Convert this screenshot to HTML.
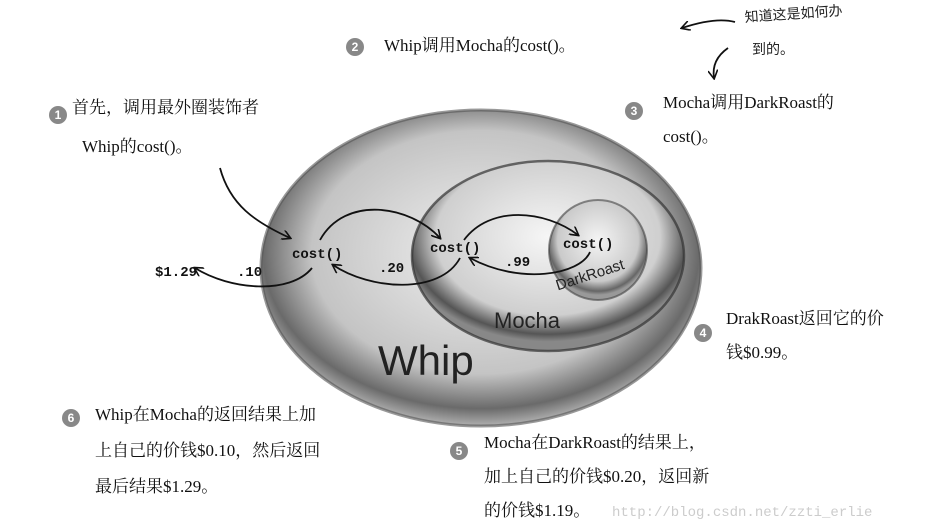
<!DOCTYPE html>
<html><head><meta charset="utf-8"><style>
html,body{margin:0;padding:0;background:#fff;}
svg{display:block;}
.t{font-family:"Liberation Serif","Noto Serif CJK SC",serif;font-size:17px;fill:#111;}
.m{font-family:"Liberation Mono",monospace;font-size:14px;font-weight:bold;fill:#111;}
.h{font-family:"Liberation Sans","Noto Sans CJK SC",sans-serif;fill:#222;}
</style></head><body>
<svg width="934" height="532" viewBox="0 0 934 532" xmlns="http://www.w3.org/2000/svg">
<defs>
<radialGradient id="gw" cx="0.5" cy="0.45" r="0.55">
<stop offset="0" stop-color="#f0f0f0"/><stop offset="0.7" stop-color="#c4c4c4"/><stop offset="0.9" stop-color="#6a6a6a"/><stop offset="1" stop-color="#b0b0b0"/>
</radialGradient>
<radialGradient id="gm" cx="0.5" cy="0.4" r="0.55">
<stop offset="0" stop-color="#f6f6f6"/><stop offset="0.75" stop-color="#cfcfcf"/><stop offset="0.93" stop-color="#555"/><stop offset="1" stop-color="#888"/>
</radialGradient>
<radialGradient id="gd" cx="0.5" cy="0.4" r="0.55">
<stop offset="0" stop-color="#f4f4f4"/><stop offset="0.75" stop-color="#cacaca"/><stop offset="0.93" stop-color="#666"/><stop offset="1" stop-color="#999"/>
</radialGradient>
<marker id="ar" markerWidth="10" markerHeight="10" refX="8" refY="5" orient="auto" markerUnits="userSpaceOnUse"><path d="M0,0 L9,5 L0,10" fill="none" stroke="#111" stroke-width="1.6"/></marker>
</defs>
<ellipse cx="481" cy="268" rx="220" ry="158" fill="url(#gw)" stroke="#555" stroke-width="3" stroke-opacity="0.6"/>
<ellipse cx="548" cy="256" rx="136" ry="95" fill="url(#gm)" stroke="#333" stroke-width="2.5" stroke-opacity="0.7"/>
<ellipse cx="598" cy="250" rx="49" ry="50" fill="url(#gd)" stroke="#444" stroke-width="2" stroke-opacity="0.6"/>
<g fill="none" stroke="#111" stroke-width="1.8">
<path d="M220 168 C230 205 255 222 290 238" marker-end="url(#ar)"/>
<path d="M320 240 C345 195 410 205 440 238" marker-end="url(#ar)"/>
<path d="M464 240 C490 205 545 210 578 235" marker-end="url(#ar)"/>
<path d="M590 252 C580 275 520 285 470 258" marker-end="url(#ar)"/>
<path d="M460 258 C440 295 370 290 333 265" marker-end="url(#ar)"/>
<path d="M312 268 C290 295 230 290 195 268" marker-end="url(#ar)"/>
<path d="M735 22 C720 18 700 22 682 28" marker-end="url(#ar)"/>
<path d="M728 48 C718 55 712 65 714 78" marker-end="url(#ar)"/>
</g>
<text class="m" x="292" y="258">cost()</text>
<text class="m" x="430" y="252">cost()</text>
<text class="m" x="563" y="248">cost()</text>
<text class="m" x="155" y="276">$1.29</text>
<text class="m" x="237" y="276">.10</text>
<text class="m" x="379" y="272">.20</text>
<text class="m" x="505" y="266">.99</text>
<text class="h" x="555" y="283" font-size="15" transform="rotate(-18 580 278)">DarkRoast</text>
<text class="h" x="494" y="328" font-size="22">Mocha</text>
<text class="h" x="378" y="375" font-size="42" fill="#111">Whip</text>
<g fill="#888"><circle cx="58" cy="115" r="9"/><circle cx="355" cy="47" r="9"/><circle cx="634" cy="111" r="9"/><circle cx="703" cy="333" r="9"/><circle cx="71" cy="418" r="9"/><circle cx="459" cy="451" r="9"/></g>
<g font-family="Liberation Sans" font-size="12" font-weight="bold" fill="#fff" text-anchor="middle">
<text x="58" y="119">1</text><text x="355" y="51">2</text><text x="634" y="115">3</text><text x="703" y="337">4</text><text x="71" y="422">6</text><text x="459" y="455">5</text></g>
<text class="t" x="72" y="113">首先，调用最外圈装饰者</text>
<text class="t" x="82" y="152">Whip的cost()。</text>
<text class="t" x="384" y="51">Whip调用Mocha的cost()。</text>
<text class="t" x="663" y="108">Mocha调用DarkRoast的</text>
<text class="t" x="663" y="142">cost()。</text>
<text class="t" x="726" y="324">DrakRoast返回它的价</text>
<text class="t" x="726" y="358">钱$0.99。</text>
<text class="t" x="95" y="420">Whip在Mocha的返回结果上加</text>
<text class="t" x="95" y="456">上自己的价钱$0.10，然后返回</text>
<text class="t" x="95" y="492">最后结果$1.29。</text>
<text class="t" x="484" y="448">Mocha在DarkRoast的结果上，</text>
<text class="t" x="484" y="482">加上自己的价钱$0.20，返回新</text>
<text class="t" x="484" y="516">的价钱$1.19。</text>
<text class="h" x="745" y="22" font-size="14" transform="rotate(-4 745 22)">知道这是如何办</text>
<text class="h" x="752" y="54" font-size="14">到的。</text>
<text x="612" y="516" font-family="Liberation Mono" font-size="14" fill="#ccc">http://blog.csdn.net/zzti_erlie</text>
</svg>
</body></html>
